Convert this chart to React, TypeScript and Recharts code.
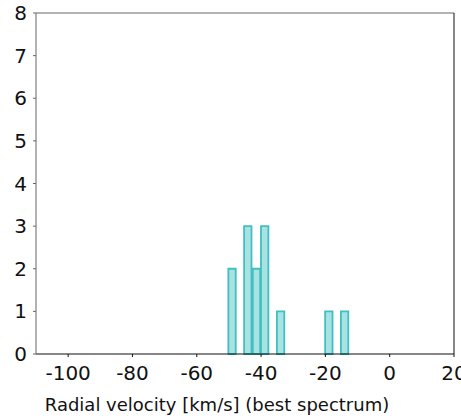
import React from 'react';
import { BarChart, Bar, XAxis, YAxis } from 'recharts';

const binCenters = [-48.9, -44.0, -41.3, -38.75, -33.8, -18.8, -13.9];
const counts = [2, 3, 2, 3, 1, 1, 1];
const xTicks = [-100, -80, -60, -40, -20, 0, 20];
const yTicks = [0, 1, 2, 3, 4, 5, 6, 7, 8];

const data = binCenters.map((x, i) => ({ x, count: counts[i] }));

const font = 'DejaVu Sans';

export default function App() {
  return (
    <div style={{ position: 'absolute', left: 0, top: 0 }}>
      <BarChart
        width={461}
        height={418}
        data={data}
        margin={{ top: 12, right: 6, left: 0, bottom: 0 }}
        barGap={0}
      >
        <XAxis
          xAxisId="main"
          type="number"
          dataKey="x"
          domain={[-110, 20]}
          ticks={xTicks}
          allowDataOverflow
          height={64}
          tickSize={3}
          tickMargin={9}
          stroke="#111"
          tick={{ fill: '#111', fontSize: 20, fontFamily: font }}
          interval={0}
          label={{
            value: 'Radial velocity [km/s] (best spectrum)',
            position: 'insideBottom',
            offset: 7,
            dx: -28,
            fill: '#111',
            fontSize: 18,
            fontFamily: font,
          }}
        />
        <XAxis
          xAxisId="top"
          orientation="top"
          type="number"
          dataKey="x"
          domain={[-110, 20]}
          allowDataOverflow
          height={1}
          tick={false}
          tickLine={false}
          stroke="#666"
        />
        <YAxis
          yAxisId="main"
          domain={[0, 8]}
          ticks={yTicks}
          width={36}
          tickSize={3}
          tickMargin={6}
          stroke="#666"
          tick={{ fill: '#111', fontSize: 20, fontFamily: font }}
          interval={0}
        />
        <YAxis
          yAxisId="right"
          orientation="right"
          domain={[0, 8]}
          allowDataOverflow
          width={1}
          tick={false}
          tickLine={false}
          stroke="#111"
        />
        <Bar
          xAxisId="main"
          yAxisId="main"
          dataKey="count"
          barSize={9}
          fill="#a9e2e2"
          stroke="#40c0c0"
          strokeWidth={1.8}
          isAnimationActive={false}
        />
      </BarChart>
    </div>
  );
}
